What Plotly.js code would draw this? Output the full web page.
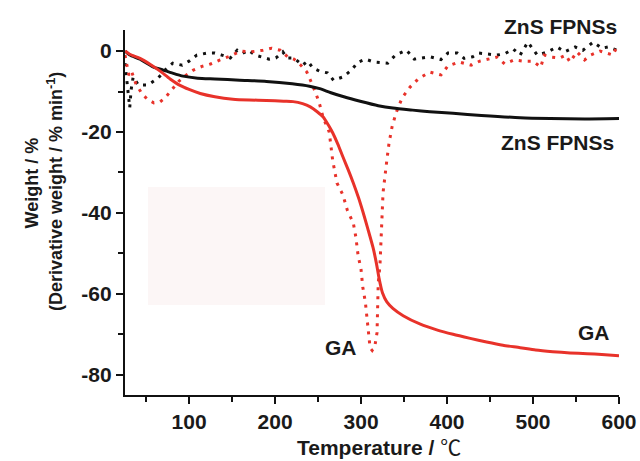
<!DOCTYPE html>
<html>
<head>
<meta charset="utf-8">
<script src="https://cdn.plot.ly/plotly-3.0.1.min.js"></script>
<style>html,body{margin:0;padding:0;background:#fff;}#chart{width:640px;height:461px;}</style>
</head>
<body>
<div id="chart"></div>
<script>
// ZnS FPNSs — TGA weight (%)
const znsTgaT = [25.6,31,43,58,70,80,93,110,130,159,190,220,240,252,265,280,299,320,337,360,380,407,440,485,520,560,600];
const znsTgaW = [0,-1,-2.0,-3.9,-4.7,-5.4,-6.2,-6.7,-6.9,-7.2,-7.5,-8.1,-8.7,-9.3,-10.3,-11.3,-12.4,-13.5,-14.1,-14.6,-15.0,-15.4,-15.9,-16.5,-16.7,-16.8,-16.7];
// GA — TGA weight (%)
const gaTgaT = [25.6,31,43,55,66,78,89.5,100,113,130,151,170,190,210,221,232,241,249,256,262,267,273,279,285,291,297,302,308,314,318,321,325,330,337,349,369,388,407,427,446,465,485,503,523,543,563,580,600];
const gaTgaW = [0,-0.8,-1.8,-3.3,-4.9,-6.9,-8.5,-9.5,-10.5,-11.3,-11.9,-12.1,-12.2,-12.4,-12.5,-13.0,-13.8,-15.0,-16.3,-18.3,-20.2,-23.0,-26.2,-29.3,-32.6,-36.2,-39.6,-44.0,-48.6,-52.6,-56.2,-59.8,-62.0,-63.6,-65.4,-67.5,-68.9,-70.0,-71.0,-71.9,-72.7,-73.3,-73.9,-74.3,-74.6,-74.8,-75.0,-75.3];
// ZnS FPNSs — derivative weight (%/min)
const znsDtgT = [25.5,26.7,28,31,32.6,35,41,52,64,72,81,92,100,109,121,130,138,148,156,162,169,177,185,193,201,209,214,222,232,238,244,252,261,268,279,289,296,305,315,331,340,353,362,370,380,393,401,412,420,430,437,446,458,467,477,485,494,505,517,528,537,549,558,570,580,587,598];
const znsDtgW = [-3,-5.2,-7.7,-14,-9.6,-6.4,-8.4,-8.4,-6.7,-4.7,-3,-3.5,-2.5,-1,-0.5,-0.5,-1,-1.7,0.2,-0.6,0.2,-1,-1.5,-2,-1.7,-0.2,-1.7,-1.7,-3.5,-2.5,-4.2,-5,-5.4,-7.2,-6.4,-4.7,-2.8,-2,-2.7,-3,-1,0.2,-2,-1.8,-1.4,-2.1,-0.5,-0.5,-1.8,-1.4,-0.5,-0.7,-1,-0.7,0.5,-1,2.2,-1,-0.2,1,-0.2,1,0.2,2.2,0.7,1,0.2];
// GA — derivative weight (%/min)
const gaDtgT = [25.5,28,30,33,38,45,52,59,66,72,80,88,95,105,115,125,136,148,160,172,186,196,206,215,222,230,237,244,251,256,263,267,272,279,284,291,294,296.5,300,302,305,307,308.5,310.5,313,316,318.6,319,319.5,320,322,323,324.4,325.6,330,332.6,336,340.7,347.7,357,367,380,393,401,414,428,438,448,458,467,478,488,500,509,513,522,531,538,543,551,560,567,578,593,599];
const gaDtgW = [-1,-3.5,-6,-5,-8,-10.5,-12,-12.8,-12.6,-11.6,-9.5,-7.5,-6.2,-4.7,-3.8,-3.2,-2.2,-1.2,0,-0.2,0.2,0.7,0.2,-1.5,-2,-3.5,-5.2,-8.6,-12.5,-16.5,-20,-27,-32.6,-35.6,-39.3,-42.5,-46,-50.4,-54,-58.3,-62,-66,-69.6,-73.3,-74,-73,-69.6,-66,-62,-57.3,-53,-48.4,-42.5,-35,-27,-22.7,-18.8,-15.3,-11.6,-8.9,-6.8,-5.2,-5.9,-3.7,-2.7,-3.5,-2.5,-2,-1.5,-3.2,-2.2,-2.5,-2.5,-4,-1,-1.5,-1.7,-1,-2.7,-0.2,-2.2,-1,0,-1,1.7];

const xTicks = [100,200,300,400,500,600];
const yTicks = [0,-20,-40,-60,-80];
const labels = {tga1:'ZnS FPNSs', tga2:'GA', dtg1:'ZnS FPNSs', dtg2:'GA'};

const RED = '#e8322a', BLACK = '#111111';
const dotted = '3px,6px';

const traces = [
  {x: znsDtgT, y: znsDtgW, mode:'lines', line:{color:BLACK, width:3, dash:dotted}, hoverinfo:'skip'},
  {x: gaDtgT, y: gaDtgW, mode:'lines', line:{color:RED, width:3, dash:dotted}, hoverinfo:'skip'},
  {x: znsTgaT, y: znsTgaW, mode:'lines', line:{color:BLACK, width:3, shape:'spline', smoothing:0.6}, hoverinfo:'skip'},
  {x: gaTgaT, y: gaTgaW, mode:'lines', line:{color:RED, width:3, shape:'spline', smoothing:0.6}, hoverinfo:'skip'}
];

const F = 'Arial, "Liberation Sans", sans-serif';
const layout = {
  width:640, height:461,
  margin:{l:125, r:21, t:30, b:66},
  paper_bgcolor:'#fff', plot_bgcolor:'#fff',
  showlegend:false,
  font:{family:F, color:'#1a1a1a'},
  xaxis:{
    range:[25.5,600], tickvals:xTicks, ticktext:xTicks.map(String),
    showgrid:false, zeroline:false, showline:true, linecolor:'#111', linewidth:2.2,
    ticks:'outside', ticklen:7, tickwidth:2, tickcolor:'#111',
    minor:{dtick:100, tick0:50, ticks:'outside', ticklen:5, tickwidth:2, tickcolor:'#111', showgrid:false},
    tickfont:{family:F, size:21, weight:'bold', color:'#1a1a1a'}
  },
  yaxis:{
    range:[-85,5.2], tickvals:yTicks, ticktext:yTicks.map(String),
    showgrid:false, zeroline:false, showline:true, linecolor:'#111', linewidth:2.2,
    ticks:'outside', ticklen:7, tickwidth:2, tickcolor:'#111',
    minor:{dtick:20, tick0:-10, ticks:'outside', ticklen:5, tickwidth:2, tickcolor:'#111', showgrid:false},
    tickfont:{family:F, size:21, weight:'bold', color:'#1a1a1a'}
  },
  shapes:[
    {type:'rect', xref:'paper', yref:'paper', x0:0.0466, x1:0.405, y0:0.2466, y1:0.570, fillcolor:'#fcf6f6', line:{width:0}, layer:'below'}
  ],
  annotations:[
    {text:labels.dtg1, xref:'paper', yref:'paper', x:1.0, y:1.01, xanchor:'right', yanchor:'middle', showarrow:false, font:{family:F, size:21, weight:'bold', color:'#1a1a1a'}},
    {text:labels.tga1, x:597, y:-22.5, xanchor:'right', yanchor:'middle', showarrow:false, font:{family:F, size:21, weight:'bold', color:'#1a1a1a'}},
    {text:labels.dtg2, x:276.7, y:-73.3, xanchor:'center', yanchor:'middle', showarrow:false, font:{family:F, size:21, weight:'bold', color:'#1a1a1a'}},
    {text:labels.tga2, x:571, y:-69.6, xanchor:'center', yanchor:'middle', showarrow:false, font:{family:F, size:21, weight:'bold', color:'#1a1a1a'}},
    {text:'Temperature / <span style="font-weight:normal;font-family:\'Noto Sans CJK SC\'">℃</span>', xref:'paper', yref:'paper', x:0.515, y:-0.14, xanchor:'center', yanchor:'middle', showarrow:false, font:{family:F, size:21, weight:'bold', color:'#1a1a1a'}},
    {text:'Weight / %', xref:'paper', yref:'paper', x:-0.188, y:0.58, xanchor:'center', yanchor:'middle', textangle:-90, showarrow:false, font:{family:F, size:18, weight:'bold', color:'#1a1a1a'}},
    {text:'(Derivative weight / % min<sup>-1</sup>)', xref:'paper', yref:'paper', x:-0.1417, y:0.556, xanchor:'center', yanchor:'middle', textangle:-90, showarrow:false, font:{family:F, size:18, weight:'bold', color:'#1a1a1a'}}
  ]
};

Plotly.newPlot('chart', traces, layout, {staticPlot:true, displayModeBar:false});
</script>
</body>
</html>
